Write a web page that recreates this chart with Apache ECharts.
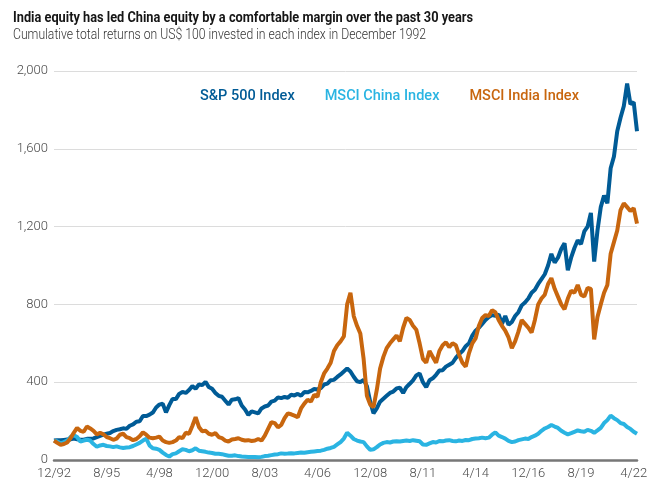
<!DOCTYPE html>
<html><head><meta charset="utf-8">
<script src="https://cdn.jsdelivr.net/npm/echarts@6/dist/echarts.min.js"></script>
<style>html,body{margin:0;padding:0;background:#fff}#c{width:658px;height:490px}</style>
</head><body><div id="c"></div>
<script>
const titleText = 'India equity has led China equity by a comfortable margin over the past 30 years';
const subtitleText = 'Cumulative total returns on US$ 100 invested in each index in December 1992';
const seriesNames = ['S&P 500 Index', 'MSCI China Index', 'MSCI India Index'];
const yMax = 2000, yStep = 400;
// bimonthly observations, Dec 1992 .. Jun 2022
const startYear = 1992, startMonth = 12, stepMonths = 2;

const sp500 = [
  100,102,101,103,105,106,110,107,104,104,
  109,109,111,118,124,130,135,139,149,155,
  158,163,160,176,183,197,199,226,226,233,
  244,270,285,290,245,282,314,313,340,350,
  345,360,380,366,388,385,402,375,366,345,
  330,325,305,285,310,312,318,280,260,232,
  250,245,240,265,275,280,300,305,322,318,
  324,320,335,332,340,330,350,348,355,365,
  363,370,388,393,410,412,427,440,455,470,
  455,428,405,400,412,380,300,240,265,300,
  315,330,345,352,368,372,345,375,392,410,
  435,445,400,375,410,420,438,460,462,480,
  490,500,525,545,560,585,600,640,665,680,
  700,720,735,745,742,748,700,740,695,710,
  740,760,795,810,830,860,875,905,930,955,
  1000,1060,1015,1040,1085,1115,975,1040,1090,1130,
  1110,1175,1200,1270,1020,1180,1300,1360,1320,1500,
  1560,1690,1760,1820,1935,1830,1840,1690
];
const china = [
  100,95,87,92,100,118,128,118,95,100,
  104,100,82,68,75,78,72,70,66,70,
  65,62,64,66,72,80,88,100,110,75,
  60,58,52,38,26,18,30,34,45,55,
  52,45,50,60,48,45,42,38,36,32,
  32,30,26,22,22,24,20,18,17,16,
  16,15,14,16,20,22,25,28,30,34,
  32,33,35,34,36,38,37,40,42,44,
  46,48,52,58,62,68,80,92,110,140,
  125,108,100,95,92,70,52,55,66,80,
  88,92,90,95,96,95,98,100,98,102,
  99,96,80,78,85,92,90,98,96,100,
  102,98,96,100,98,103,102,108,110,112,
  115,112,115,130,142,125,118,110,98,92,
  95,102,106,110,108,118,125,135,150,162,
  170,180,172,165,150,140,132,138,145,152,
  148,145,155,150,140,152,165,190,205,228,
  215,205,190,185,170,160,145,135
];
const india = [
  100,88,78,82,90,112,140,165,150,145,
  172,162,150,132,140,132,118,112,104,110,
  130,135,118,112,102,108,122,142,130,115,
  112,115,120,100,92,88,92,100,118,112,
  140,135,175,220,170,148,150,135,130,138,
  118,112,100,95,105,108,112,104,100,102,
  98,100,108,100,125,160,195,190,168,180,
  215,240,235,228,220,265,290,310,300,335,
  325,400,445,470,500,560,590,610,635,800,
  860,740,690,650,520,330,285,272,360,470,
  530,575,600,620,640,610,680,730,720,690,
  670,600,520,500,560,530,500,560,590,605,
  580,600,590,540,500,480,550,600,625,690,
  730,745,740,770,760,720,690,665,630,575,
  610,660,720,700,680,655,720,800,830,850,
  905,935,880,840,800,775,830,870,860,900,
  850,840,885,880,620,735,800,860,900,1060,
  1120,1180,1285,1320,1300,1280,1295,1215
];

const colors = ['#005b96', '#2ab4e2', '#c8660e'];
const FONT = "Roboto, sans-serif";

const dates = sp500.map((_, i) => {
  const t = startMonth - 1 + i * stepMonths;
  return (t % 12 + 1) + '/' + String((startYear + Math.floor(t / 12)) % 100).padStart(2, '0');
});

// horizontal condensing so the headings occupy the reference's width
const measure = (txt, font) => {
  const ctx = document.createElement('canvas').getContext('2d');
  ctx.font = font;
  return ctx.measureText(txt).width;
};
const titleFont = {size: 14.5, weight: 'bold'};
const subFont = {size: 15, weight: 300};
const titleScale = 460 / measure(titleText, `bold ${titleFont.size}px Roboto`);
const subScale = 413 / measure(subtitleText, `300 ${subFont.size}px Roboto`);

const chart = echarts.init(document.getElementById('c'), null, {renderer: 'canvas'});
const values = [sp500, china, india];
chart.setOption({
  animation: false,
  backgroundColor: '#fff',
  graphic: [
    {type: 'text', x: 13, y: 18.5, scaleX: titleScale, silent: true,
     style: {text: titleText, fontSize: titleFont.size, fontWeight: titleFont.weight, fontFamily: FONT,
             fill: '#161616', verticalAlign: 'middle', align: 'left'}},
    {type: 'text', x: 13, y: 35.5, scaleX: subScale, silent: true,
     style: {text: subtitleText, fontSize: subFont.size, fontWeight: subFont.weight, fontFamily: FONT,
             fill: '#333', verticalAlign: 'middle', align: 'left'}}
  ],
  legend: {
    left: 195, top: 89, padding: 0, itemGap: 25, itemWidth: 0, itemHeight: 0,
    icon: 'rect', selectedMode: false,
    textStyle: {fontSize: 14.5, fontWeight: 500, fontFamily: FONT},
    data: seriesNames.map((n, i) => ({name: n, textStyle: {color: colors[i]}}))
  },
  grid: {left: 54, right: 21, top: 71, bottom: 30},
  xAxis: {
    type: 'category', data: dates, boundaryGap: false,
    axisLine: {lineStyle: {color: '#777', width: 2.5}},
    axisTick: {show: false},
    axisLabel: {interval: 15, color: '#4a4a4a', fontSize: 13, fontWeight: 300, fontFamily: FONT, margin: 7},
    splitLine: {show: false}
  },
  yAxis: {
    type: 'value', min: 0, max: yMax, interval: yStep,
    axisLine: {show: false}, axisTick: {show: false},
    axisLabel: {formatter: v => v.toLocaleString('en-US'), color: '#4a4a4a', fontSize: 13, fontWeight: 300, fontFamily: FONT, margin: 6},
    splitLine: {lineStyle: {color: '#dcdcdc', width: 1}}
  },
  series: seriesNames.map((n, i) => ({
    name: n, type: 'line', data: values[i], showSymbol: false, symbol: 'none',
    lineStyle: {width: 4, color: colors[i]}, itemStyle: {color: colors[i]},
    z: 2 + i
  }))
});
</script></body></html>
